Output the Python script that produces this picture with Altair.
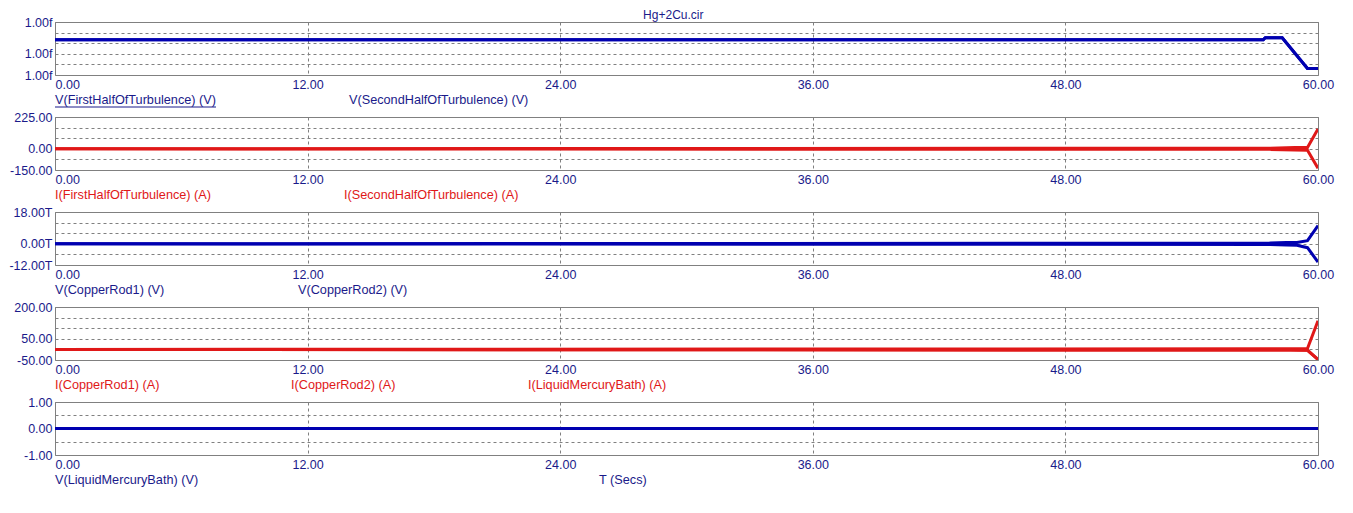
import altair as alt
import pandas as pd

FONT = "Liberation Sans"
NAVY = "#1a1a8a"
BLUE = "#0000b0"
RED = "#e01818"
W, H = 1263, 53

# panel 1: V(FirstHalfOfTurbulence), V(SecondHalfOfTurbulence)  (values in fV)
t1 = [0, 57.4, 57.5, 58.3, 59.5, 60]
v_first_half = [1.00133, 1.00133, 1.00152, 1.00152, 0.99862, 0.99862]
v_second_half = [1.00133, 1.00133, 1.00152, 1.00152, 0.99862, 0.99862]

# panel 2: currents through the turbulence halves (A)
t2 = [0, 57.7, 58.9, 59.5, 60]
i_first_half = [0, 4, 9, 10, 140]
i_second_half = [0, -4, -9, -10, -138]

# panel 3: copper rod voltages (in T volts)
t3 = [0, 57.7, 58.5, 59.0, 59.5, 60]
v_rod1 = [0, 0.4, 0.7, 0.8, 1.8, 10.3]
v_rod2 = [0, -0.4, -0.7, -0.8, -2.2, -10.3]

# panel 4: copper rod / bath currents (A)
t4 = [0, 58.7, 59.5, 60]
i_rod1 = [0, 3, 4, 135]
i_rod2 = [0, -3, -4, -48]
i_bath = [0, -3, -4, -47]

# panel 5: V(LiquidMercuryBath)
t5 = [0, 60]
v_bath = [0, 0]

x_ticks = [0, 12, 24, 36, 48, 60]


def panel(times, series, color, lo, hi, step, shown, suffix, legends):
    rows = []
    for name, vals in series.items():
        for t, v in zip(times, vals):
            rows.append({"t": t, "v": v, "s": name})
    df = pd.DataFrame(rows)
    grid = [lo + k * step for k in range(int(round((hi - lo) / step)) + 1)]
    cond = " || ".join(f"abs(datum.value - ({v})) < 1e-9" for v in shown)
    lab = f"({cond}) ? replace(format(datum.value, '.2f'), '\u2212', '-') + '{suffix}' : ''"

    lines = alt.Chart(df).mark_line(strokeWidth=3, clip=True, color=color).encode(
        x=alt.X("t:Q", scale=alt.Scale(domain=[0, 60], nice=False, zero=False),
                axis=alt.Axis(values=x_ticks, format=".2f", title=None, ticks=False, domain=False,
                              grid=True, gridDash=[3, 3], gridColor="#808080",
                              labelAlign={"condition": {"test": "datum.value == 0", "value": "left"}, "value": "center"},
                              labelPadding=3)),
        y=alt.Y("v:Q", scale=alt.Scale(domain=[lo, hi], nice=False, zero=False),
                axis=alt.Axis(values=grid, labelExpr=lab, title=None, ticks=False, domain=False,
                              labelOverlap=False,
                              grid=True, gridDash=[3, 3], gridColor="#808080", labelPadding=3)),
        detail="s:N",
    )
    layers = [lines]
    for text, px, col, underline in legends:
        one = alt.Chart(pd.DataFrame({"k": [text]}))
        layers.append(one.mark_text(align="left", baseline="middle", font=FONT, fontSize=12.7, color=col).encode(
            x=alt.value(px), y=alt.value(H + 25), text="k:N"))
        if underline:
            layers.append(one.mark_rule(color=col, strokeWidth=1).encode(
                x=alt.value(px), x2=alt.value(px + 161), y=alt.value(H + 32)))
    return alt.layer(*layers).properties(width=W, height=H)


p1 = panel(t1, {"V(FirstHalfOfTurbulence) (V)": v_first_half, "V(SecondHalfOfTurbulence) (V)": v_second_half},
           BLUE, 0.998, 1.003, 0.001, [0.998, 1.000, 1.003], "f",
           [("V(FirstHalfOfTurbulence) (V)", 0, NAVY, True), ("V(SecondHalfOfTurbulence) (V)", 294, NAVY, False)])
p2 = panel(t2, {"I(FirstHalfOfTurbulence) (A)": i_first_half, "I(SecondHalfOfTurbulence) (A)": i_second_half},
           RED, -150, 225, 75, [-150, 0, 225], "",
           [("I(FirstHalfOfTurbulence) (A)", 0, RED, False), ("I(SecondHalfOfTurbulence) (A)", 289, RED, False)])
p3 = panel(t3, {"V(CopperRod1) (V)": v_rod1, "V(CopperRod2) (V)": v_rod2},
           BLUE, -12, 18, 6, [-12, 0, 18], "T",
           [("V(CopperRod1) (V)", 0, NAVY, False), ("V(CopperRod2) (V)", 243, NAVY, False)])
p4 = panel(t4, {"I(CopperRod1) (A)": i_rod1, "I(CopperRod2) (A)": i_rod2, "I(LiquidMercuryBath) (A)": i_bath},
           RED, -50, 200, 50, [-50, 50, 200], "",
           [("I(CopperRod1) (A)", 0, RED, False), ("I(CopperRod2) (A)", 236, RED, False),
            ("I(LiquidMercuryBath) (A)", 473, RED, False)])
p5 = panel(t5, {"V(LiquidMercuryBath) (V)": v_bath},
           BLUE, -1, 1, 0.5, [-1, 0, 1], "",
           [("V(LiquidMercuryBath) (V)", 0, NAVY, False), ("T (Secs)", 544, NAVY, False)])

chart = alt.vconcat(p1, p2, p3, p4, p5, spacing=42, bounds="flush").properties(
    title=alt.TitleParams("Hg+2Cu.cir", anchor="middle", font=FONT, fontSize=12, fontWeight="normal",
                          color=NAVY, offset=-6, dx=2),
    padding={"left": 0, "top": 0, "right": 5, "bottom": 5},
    background="white",
).configure_view(stroke="#808080", strokeWidth=1).configure_axis(
    labelFont=FONT, labelFontSize=12.5, labelColor=NAVY
)

chart.save("out.html", embed_options={"renderer": "svg", "actions": False})
